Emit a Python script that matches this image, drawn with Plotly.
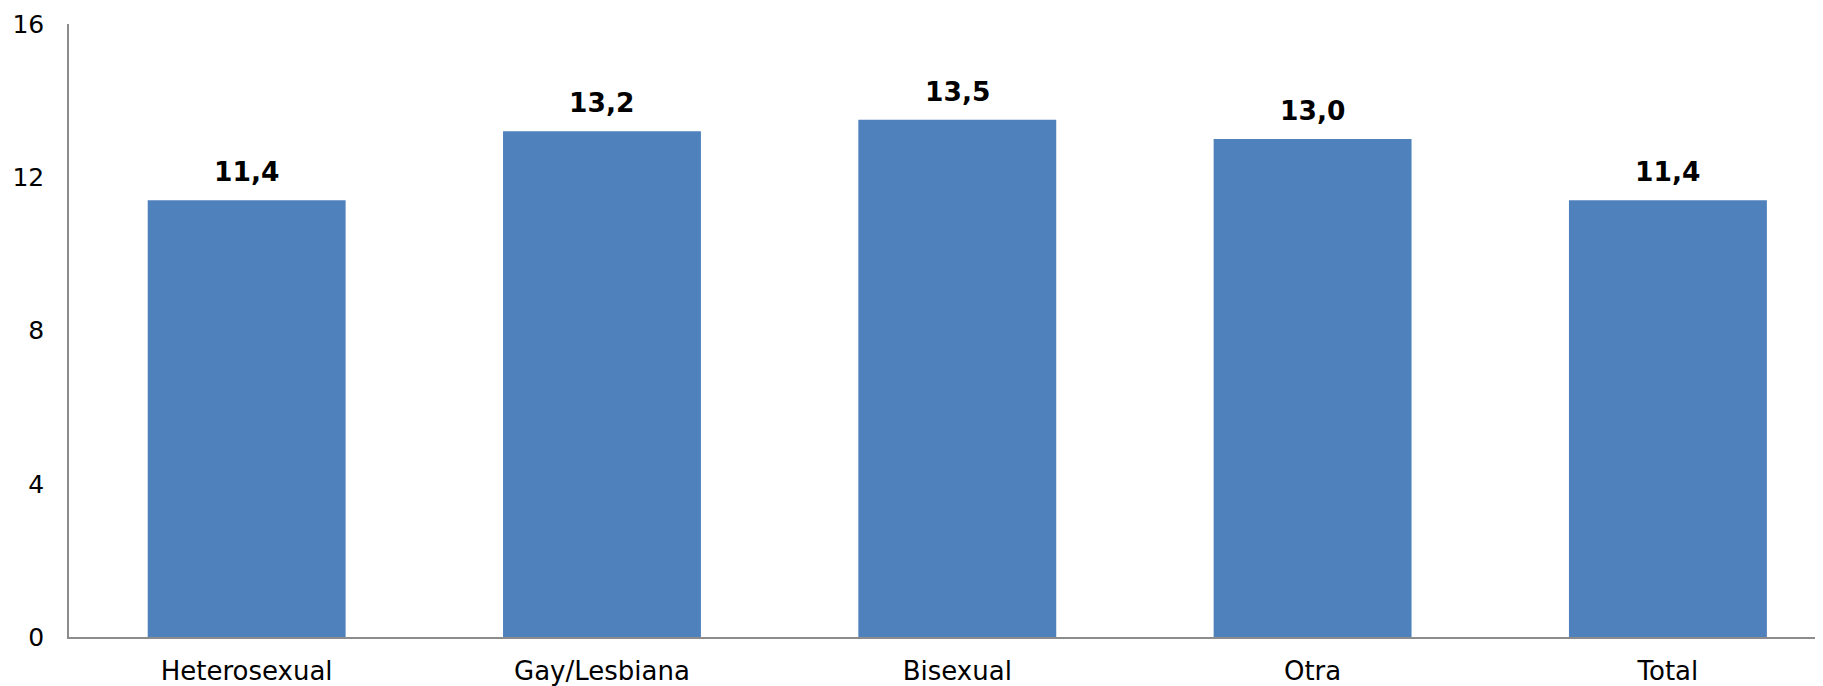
import plotly.graph_objects as go

categories = ["Heterosexual", "Gay/Lesbiana", "Bisexual", "Otra", "Total"]
values = [11.4, 13.2, 13.5, 13.0, 11.4]
labels = ["11,4", "13,2", "13,5", "13,0", "11,4"]
y_ticks = [0, 4, 8, 12, 16]

fig = go.Figure()
fig.add_trace(go.Bar(
    x=categories, y=values, width=0.557,
    marker=dict(color="#4F81BD", line=dict(width=0)),
    hoverinfo="skip",
))
for c, v, t in zip(categories, values, labels):
    fig.add_annotation(x=c, y=v, text="<b>" + t + "</b>", showarrow=False,
                       yanchor="bottom", yshift=11,
                       font=dict(family="DejaVu Sans", size=26.5, color="#000000"))

fig.update_layout(
    width=1823, height=686,
    margin=dict(l=61, r=0, t=16, b=57),
    plot_bgcolor="white", paper_bgcolor="white",
    showlegend=False,
    font=dict(family="DejaVu Sans", size=26, color="#000000"),
)
fig.update_xaxes(
    range=[-0.5, 4.459], showgrid=False, showline=True, linecolor="#8c8c8c",
    linewidth=1.5, ticks="", ticklabelstandoff=10, tickfont=dict(size=26),
)
fig.update_yaxes(
    range=[0, 16], tickvals=y_ticks, showgrid=False, zeroline=False, showline=True,
    linecolor="#8c8c8c", linewidth=1.5, ticks="", ticklabelstandoff=18,
    tickfont=dict(size=25),
)
fig.write_html("out.html")
